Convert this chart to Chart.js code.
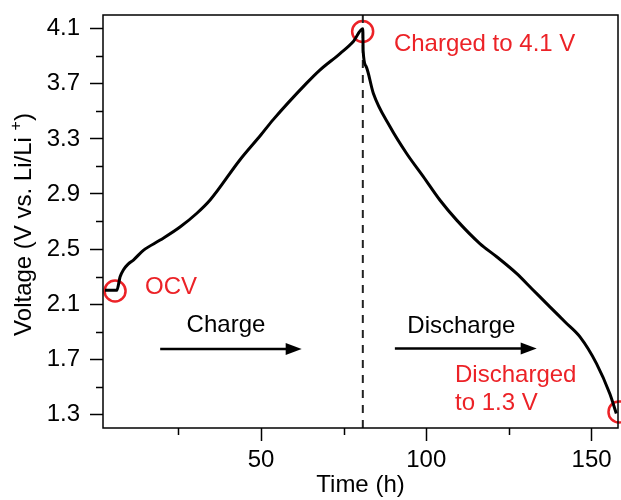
<!DOCTYPE html>
<html>
<head>
<meta charset="utf-8">
<script src="https://cdn.jsdelivr.net/npm/chart.js@4"></script>
<style>
html,body{margin:0;padding:0;background:#fff;}
#wrap{width:621px;height:500px;position:relative;}
</style>
</head>
<body>
<div id="wrap"><canvas id="chart"></canvas></div>
<script>
// Charge / discharge curve
const timeH   = [2.8, 6.36, 7.4, 8.4, 9.8, 11.4, 14.4, 19.5, 25.5, 30.6, 34.6, 43.6, 50, 53.7, 63.8, 67.8, 73.9, 78, 80.8,
                 80.9, 81.8, 84, 89, 94, 99.1, 104.1, 109.2, 116.2, 121.3, 127.3, 132, 137.4, 142, 146.5, 151.5, 155.5, 157.5];
const voltage = [2.20, 2.20, 2.30, 2.35, 2.39, 2.42, 2.49, 2.565, 2.66, 2.76, 2.856, 3.147, 3.33, 3.44, 3.705, 3.80, 3.92, 4.01, 4.10,
                 3.94, 3.826, 3.63, 3.39, 3.196, 3.026, 2.856, 2.71, 2.54, 2.444, 2.323, 2.21, 2.08, 1.97, 1.862, 1.668, 1.45, 1.305];

// red circles (OCV, charged, discharged)
const markT = [5.85, 80.75, 158.3];
const markV = [2.195, 4.08, 1.317];

// dashed line at end of charge
const switchT = 80.8;

const xRange = [2.2, 158];
const yRange = [1.2, 4.2];
const xMajor = [50, 100, 150];
const xMinor = [25, 75, 125];
const yMajor = [1.3, 1.7, 2.1, 2.5, 2.9, 3.3, 3.7, 4.1];
const yMinor = [1.5, 1.9, 2.3, 2.7, 3.1, 3.5, 3.9];

// annotations (data coordinates)
const noteText  = ['OCV', 'Charged to 4.1 V', 'Charge', 'Discharge', 'Discharged', 'to 1.3 V'];
const noteT     = [14.9, 90.2, 39.4, 110.6, 108.7, 108.7];
const noteV     = [2.22, 3.984, 1.947, 1.935, 1.584, 1.38];
const noteRed   = [true, true, false, false, true, true];
const noteAlign = ['left', 'left', 'center', 'center', 'left', 'left'];
const arrowT0 = [19.5, 90.5];
const arrowT1 = [62.3, 133.4];
const arrowV  = [1.773, 1.778];

const RED = '#ec2227';
const FONT = "'Liberation Sans', Arial, sans-serif";

const decor = {
    id: 'decor',
    afterDatasetsDraw(chart) {
        const {ctx, chartArea: a, scales: {x, y}} = chart;
        ctx.save();
        // frame
        ctx.strokeStyle = '#000';
        ctx.lineWidth = 1.5;
        ctx.strokeRect(a.left, a.top, a.right - a.left, a.bottom - a.top);
        // minor ticks
        ctx.beginPath();
        xMinor.forEach(v => { const px = Math.round(x.getPixelForValue(v)) + .5; ctx.moveTo(px, a.bottom); ctx.lineTo(px, a.bottom + 7); });
        yMinor.forEach(v => { const py = Math.round(y.getPixelForValue(v)) + .5; ctx.moveTo(a.left, py); ctx.lineTo(a.left - 7, py); });
        ctx.stroke();
        // arrows
        ctx.lineWidth = 2.5;
        ctx.fillStyle = '#000';
        arrowT0.forEach((t0, i) => {
            const x0 = x.getPixelForValue(t0), x1 = x.getPixelForValue(arrowT1[i]), py = y.getPixelForValue(arrowV[i]);
            ctx.beginPath(); ctx.moveTo(x0, py); ctx.lineTo(x1 - 12, py); ctx.stroke();
            ctx.beginPath(); ctx.moveTo(x1, py); ctx.lineTo(x1 - 16, py - 6); ctx.lineTo(x1 - 16, py + 6); ctx.closePath(); ctx.fill();
        });
        // texts
        ctx.font = '24px ' + FONT;
        ctx.textBaseline = 'middle';
        noteText.forEach((s, i) => {
            ctx.fillStyle = noteRed[i] ? RED : '#000';
            ctx.textAlign = noteAlign[i];
            ctx.fillText(s, x.getPixelForValue(noteT[i]), y.getPixelForValue(noteV[i]));
        });
        // y title with superscript +
        const main = 'Voltage (V vs. Li/Li ', sup = '+', close = ')';
        ctx.fillStyle = '#000';
        ctx.textAlign = 'left';
        ctx.textBaseline = 'alphabetic';
        const w1 = ctx.measureText(main).width, w3 = ctx.measureText(close).width;
        ctx.font = '16px ' + FONT;
        const w2 = ctx.measureText(sup).width;
        const total = w1 + w2 + w3;
        ctx.translate(31, (a.top + a.bottom) / 2 + 3);
        ctx.rotate(-Math.PI / 2);
        ctx.font = '24px ' + FONT;
        ctx.fillText(main, -total / 2, 0);
        ctx.font = '16px ' + FONT;
        ctx.fillText(sup, -total / 2 + w1, -10);
        ctx.font = '24px ' + FONT;
        ctx.fillText(close, -total / 2 + w1 + w2, 0);
        ctx.restore();
    }
};

const noPad = s => { s.paddingLeft = s.paddingRight = s.paddingTop = s.paddingBottom = 0; };

const axisBase = {
    border: {display: false},
    grid: {drawOnChartArea: false, drawTicks: true, tickLength: 13, tickWidth: 1.5, tickColor: '#000'},
};

new Chart(document.getElementById('chart'), {
    type: 'line',
    data: {
        datasets: [
            {data: timeH.map((t, i) => ({x: t, y: voltage[i]})), borderColor: '#000', borderWidth: 3, pointRadius: 0, tension: 0, cubicInterpolationMode: 'monotone', fill: false},
            {data: [{x: switchT, y: yRange[1]}, {x: switchT, y: yRange[0]}], borderColor: '#222', borderWidth: 2, borderDash: [8, 7], pointRadius: 0},
            {data: markT.map((t, i) => ({x: t, y: markV[i]})), showLine: false, pointRadius: 10.5, pointBorderWidth: 2.5, pointBorderColor: RED, pointBackgroundColor: 'rgba(0,0,0,0)', clip: false}
        ]
    },
    options: {
        responsive: true,
        maintainAspectRatio: false,
        animation: false,
        layout: {autoPadding: false, padding: {left: 0, top: 15, right: 3, bottom: 0}},
        plugins: {legend: {display: false}, tooltip: {enabled: false}},
        scales: {
            x: {
                ...axisBase,
                type: 'linear', min: xRange[0], max: xRange[1],
                afterBuildTicks: s => { s.ticks = xMajor.map(v => ({value: v})); },
                afterFit: s => { s.height = 72; noPad(s); },
                ticks: {color: '#000', padding: 5, font: {family: FONT, size: 24}, callback: v => String(v)},
                title: {display: true, text: 'Time (h)', color: '#000', font: {family: FONT, size: 24}, padding: {top: 0, bottom: 0}}
            },
            y: {
                ...axisBase,
                type: 'linear', min: yRange[0], max: yRange[1],
                afterBuildTicks: s => { s.ticks = yMajor.map(v => ({value: v})); },
                afterFit: s => { s.width = 103; noPad(s); },
                ticks: {color: '#000', padding: 10, font: {family: FONT, size: 24}, callback: v => v.toFixed(1)},
                title: {display: false}
            }
        }
    },
    plugins: [decor]
});
</script>
</body>
</html>
